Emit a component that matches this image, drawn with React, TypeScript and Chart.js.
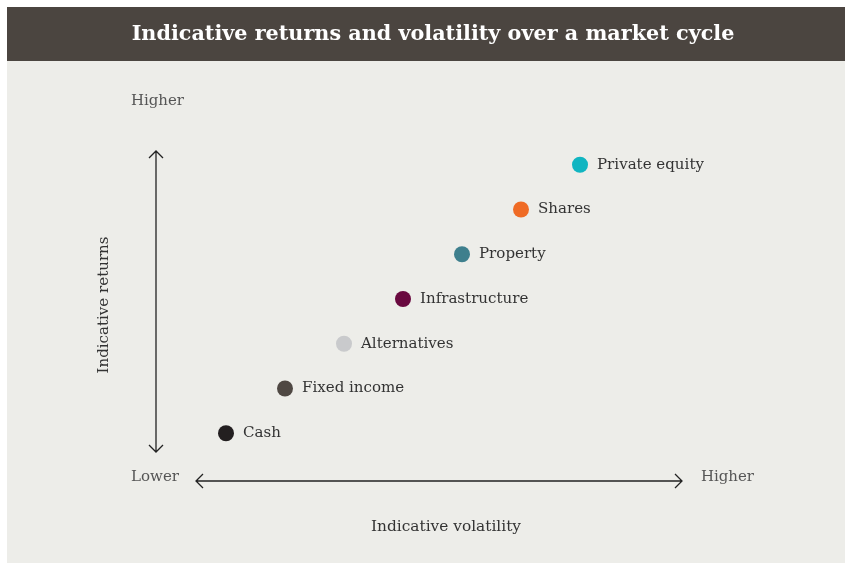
import React, { useEffect, useRef } from "react";
import { Chart, registerables } from "chart.js";

Chart.register(...registerables);

const titleText = "Indicative returns and volatility over a market cycle";
const assetClasses = ["Cash", "Fixed income", "Alternatives", "Infrastructure", "Property", "Shares", "Private equity"];
const volatility = [1, 2, 3, 4, 5, 6, 7];
const returns = [1, 2, 3, 4, 5, 6, 7];
const pointColors = ["#231f20", "#4f4843", "#c9cacc", "#69093f", "#3e7f8d", "#ef6b25", "#10b5c1"];
const xAxisTitle = "Indicative volatility";
const yAxisTitle = "Indicative returns";
const lowLabel = "Lower";
const highLabel = "Higher";

const FONT = '"DejaVu Serif", serif';

function fitFont(ctx: CanvasRenderingContext2D, text: string, target: number, weight: string, base: number) {
  ctx.font = `${weight} ${base}px ${FONT}`;
  const w = ctx.measureText(text).width;
  const size = (base * target) / w;
  return `${weight} ${size.toFixed(2)}px ${FONT}`;
}

const decor = {
  id: "decor",
  beforeDraw(chart: any) {
    const ctx = chart.ctx as CanvasRenderingContext2D;
    ctx.save();
    ctx.fillStyle = "#ffffff";
    ctx.fillRect(0, 0, chart.width, chart.height);
    ctx.fillStyle = "#edede9";
    ctx.fillRect(7, 7, 838, 556);
    ctx.fillStyle = "#4b4540";
    ctx.fillRect(7, 7, 838, 54);
    ctx.fillStyle = "#ffffff";
    ctx.textAlign = "center";
    ctx.textBaseline = "middle";
    ctx.font = fitFont(ctx, titleText, 603, "bold", 24);
    ctx.fillText(titleText, 433, 35);
    ctx.restore();
  },
  afterDatasetsDraw(chart: any) {
    const ctx = chart.ctx as CanvasRenderingContext2D;
    ctx.save();
    // arrows
    ctx.strokeStyle = "#222222";
    ctx.lineWidth = 1.3;
    ctx.beginPath();
    ctx.moveTo(156, 151);
    ctx.lineTo(156, 452);
    ctx.moveTo(149, 158);
    ctx.lineTo(156, 151);
    ctx.lineTo(163, 158);
    ctx.moveTo(149, 445);
    ctx.lineTo(156, 452);
    ctx.lineTo(163, 445);
    ctx.moveTo(196, 481);
    ctx.lineTo(682, 481);
    ctx.moveTo(203, 474);
    ctx.lineTo(196, 481);
    ctx.lineTo(203, 488);
    ctx.moveTo(675, 474);
    ctx.lineTo(682, 481);
    ctx.lineTo(675, 488);
    ctx.stroke();

    // axis end labels
    ctx.fillStyle = "#555555";
    ctx.textBaseline = "middle";
    ctx.textAlign = "left";
    ctx.font = fitFont(ctx, highLabel, 53, "normal", 16);
    ctx.fillText(highLabel, 131, 101);
    ctx.fillText(highLabel, 701, 477);
    ctx.font = fitFont(ctx, lowLabel, 48, "normal", 16);
    ctx.fillText(lowLabel, 131, 477);

    ctx.fillStyle = "#333333";
    ctx.textAlign = "center";
    ctx.font = fitFont(ctx, xAxisTitle, 150, "normal", 16);
    ctx.fillText(xAxisTitle, 446, 527);
    ctx.save();
    ctx.translate(104, 305);
    ctx.rotate(-Math.PI / 2);
    ctx.font = fitFont(ctx, yAxisTitle, 137, "normal", 16);
    ctx.fillText(yAxisTitle, 0, 0);
    ctx.restore();

    // point labels
    const meta = chart.getDatasetMeta(0);
    ctx.textAlign = "left";
    ctx.fillStyle = "#333333";
    ctx.font = fitFont(ctx, "Private equity", 107, "normal", 16);
    meta.data.forEach((pt: any, i: number) => {
      ctx.fillText(assetClasses[i], pt.x + 17, pt.y);
    });
    ctx.restore();
  },
};

export default function App() {
  const ref = useRef<HTMLCanvasElement>(null);
  useEffect(() => {
    const chart = new Chart(ref.current!, {
      type: "scatter",
      data: {
        labels: assetClasses,
        datasets: [
          {
            data: volatility.map((v, i) => ({ x: v, y: returns[i] })),
            backgroundColor: pointColors,
            borderColor: pointColors,
            pointRadius: 8,
            pointHoverRadius: 8,
            borderWidth: 0,
          },
        ],
      },
      options: {
        animation: false,
        responsive: false,
        events: [],
        layout: { padding: { left: 167, right: 207, top: 120, bottom: 86 } },
        plugins: { legend: { display: false }, tooltip: { enabled: false }, title: { display: false } },
        scales: {
          x: { type: "linear", min: 0, max: 8, display: false },
          y: { type: "linear", min: 0, max: 8, display: false },
        },
      },
      plugins: [decor],
    });
    return () => chart.destroy();
  }, []);
  return (
    <div style={{ position: "fixed", left: 0, top: 0, width: 846, height: 564 }}>
      <canvas ref={ref} width={846} height={564} style={{ width: 846, height: 564, display: "block" }} />
    </div>
  );
}
